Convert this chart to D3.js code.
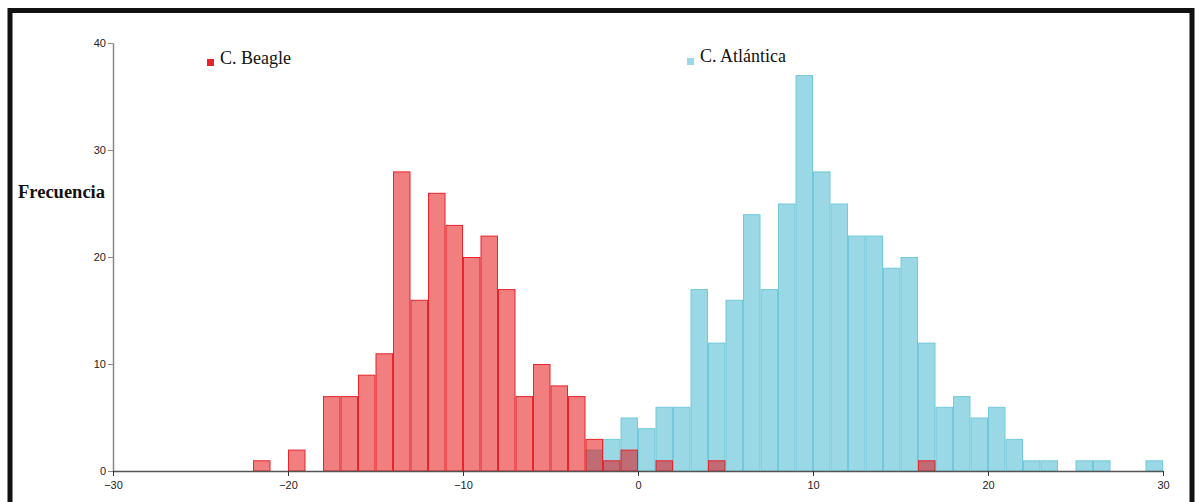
<!DOCTYPE html>
<html>
<head>
<meta charset="utf-8">
<script src="https://cdn.jsdelivr.net/npm/d3@7"></script>
<style>
  html, body { margin: 0; padding: 0; background: #fff; }
  svg { display: block; }
</style>
</head>
<body>
<svg id="chart" width="1195" height="502"></svg>
<script>
// Histogram bins: lower edge of each unit-wide bin
const binStarts = d3.range(-22, 30);

// Counts per bin, C. Beagle (starting at -22)
const beagleCounts = [
  1, 0, 2, 0, 7, 7, 9, 11, 28, 16, 26, 23, 20, 22, 17, 7, 10, 8, 7, 3, 1, 2,
  0, 1, 0, 0, 1, 0, 0, 0, 0, 0, 0, 0, 0, 0, 0, 0, 1, 0, 0, 0, 0, 0, 0, 0, 0,
  0, 0, 0, 0, 0
];

// Counts per bin, C. Atlántica (starting at -22)
const atlanticaCounts = [
  0, 0, 0, 0, 0, 0, 0, 0, 0, 0, 0, 0, 0, 0, 0, 0, 0, 0, 0, 2, 3, 5,
  4, 6, 6, 17, 12, 16, 24, 17, 25, 37, 28, 25, 22, 22, 19, 20, 12, 6, 7, 5,
  6, 3, 1, 1, 0, 1, 1, 0, 0, 1
];

const xTicks = [-30, -20, -10, 0, 10, 20, 30];
const yTicks = [0, 10, 20, 30, 40];
const seriesNames = ["C. Beagle", "C. Atlántica"];
const yTitle = "Frecuencia";

const svg = d3.select("#chart");

// Frame around the figure
svg.append("rect")
  .attr("x", 10).attr("y", 10.5)
  .attr("width", 1182).attr("height", 520)
  .attr("fill", "none").attr("stroke", "#111").attr("stroke-width", 5);

const x = d3.scaleLinear().domain([-30, 30]).range([113, 1163]);
const y = d3.scaleLinear().domain([0, 40]).range([471, 43]);

function bins(counts) {
  return binStarts.map((s, i) => ({ start: s, count: counts[i] }))
    .filter(d => d.count > 0);
}

// C. Atlántica bars (underneath)
svg.append("g").selectAll("rect")
  .data(bins(atlanticaCounts))
  .join("rect")
  .attr("x", d => x(d.start) + 0.5)
  .attr("y", d => y(d.count) + 0.5)
  .attr("width", d => x(d.start + 1) - x(d.start) - 1)
  .attr("height", d => y(0) - y(d.count) - 0.5)
  .attr("fill", "#9ad8e5")
  .attr("stroke", "#72c9dc")
  .attr("stroke-width", 1);

// C. Beagle bars (translucent, on top)
svg.append("g").selectAll("rect")
  .data(bins(beagleCounts))
  .join("rect")
  .attr("x", d => x(d.start) + 0.5)
  .attr("y", d => y(d.count) + 0.5)
  .attr("width", d => x(d.start + 1) - x(d.start) - 1)
  .attr("height", d => y(0) - y(d.count) - 0.5)
  .attr("fill", "rgb(228,10,12)")
  .attr("fill-opacity", 0.52)
  .attr("stroke", "#e8232b")
  .attr("stroke-width", 1);

// Y axis
const yAxis = svg.append("g")
  .attr("transform", `translate(${x(-30)},0)`)
  .call(d3.axisLeft(y).tickValues(yTicks).tickSize(5).tickSizeOuter(0));
yAxis.select(".domain").attr("stroke", "#888").attr("stroke-width", 1.5);
yAxis.selectAll(".tick line").attr("stroke", "#888");
yAxis.selectAll("text")
  .attr("font-family", "'Liberation Sans', Arial, sans-serif")
  .attr("font-size", 11).attr("fill", "#222").attr("x", -7);

// X axis
const xAxis = svg.append("g")
  .attr("transform", `translate(0,${y(0)})`)
  .call(d3.axisBottom(x).tickValues(xTicks).tickSize(5).tickSizeOuter(0));
xAxis.select(".domain").attr("stroke", "#555").attr("stroke-width", 1.5);
xAxis.selectAll(".tick line").attr("stroke", "#333");
xAxis.selectAll("text")
  .attr("font-family", "'Liberation Sans', Arial, sans-serif")
  .attr("font-size", 11).attr("fill", "#222").attr("y", 10);

// Axis title
svg.append("text")
  .attr("x", 18).attr("y", 198)
  .attr("font-family", "'Liberation Serif', 'Times New Roman', serif")
  .attr("font-weight", "bold").attr("font-size", 18.5).attr("fill", "#111")
  .text(yTitle);

// Legend
const legend = [
  { name: seriesNames[0], color: "#e8232b", sx: 207, sy: 59, tx: 220, ty: 64 },
  { name: seriesNames[1], color: "#9ad8e5", sx: 687, sy: 58, tx: 700, ty: 62 }
];
const lg = svg.append("g").selectAll("g").data(legend).join("g");
lg.append("rect")
  .attr("x", d => d.sx).attr("y", d => d.sy)
  .attr("width", 7).attr("height", 7)
  .attr("fill", d => d.color);
lg.append("text")
  .attr("x", d => d.tx).attr("y", d => d.ty)
  .attr("font-family", "'Liberation Serif', 'Times New Roman', serif")
  .attr("font-size", 18).attr("fill", "#111")
  .text(d => d.name);
</script>
</body>
</html>
